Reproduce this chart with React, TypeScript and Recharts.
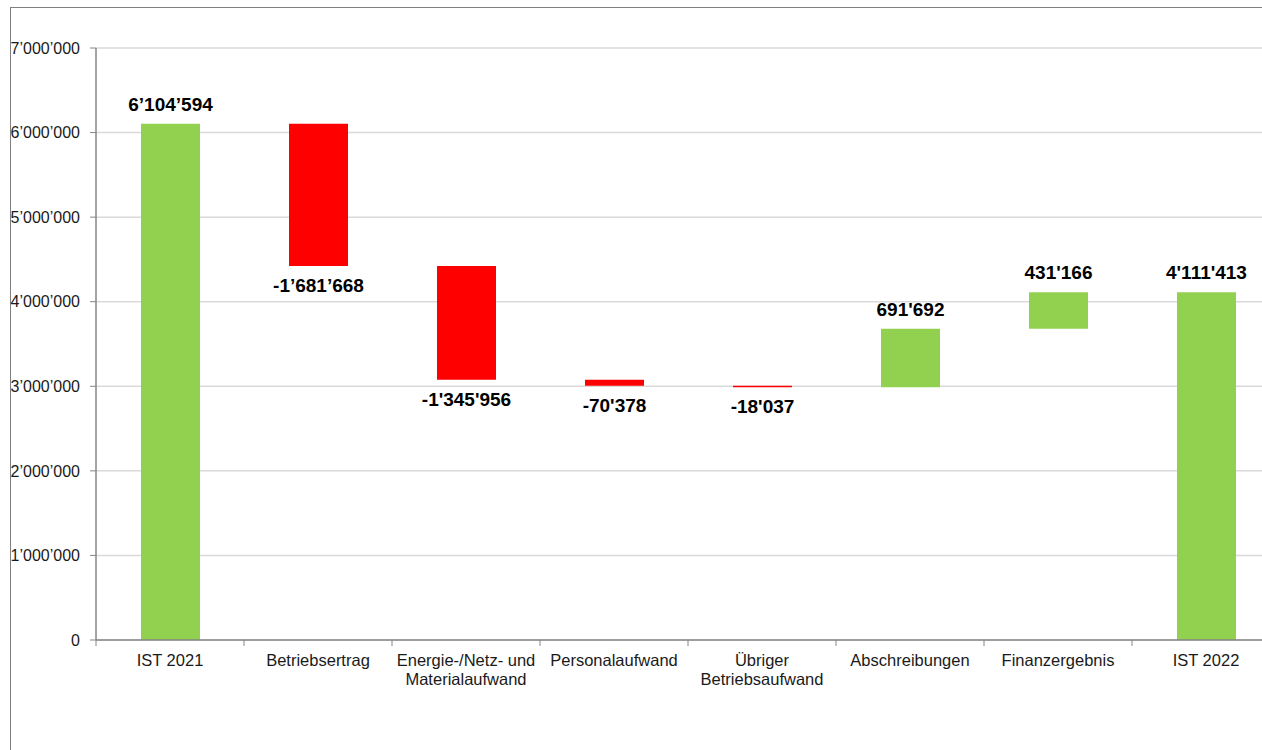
import { BarChart, Bar, XAxis, YAxis, CartesianGrid, Cell, LabelList } from 'recharts';

const categories = [
  'IST 2021',
  'Betriebsertrag',
  'Energie-/Netz- und\nMaterialaufwand',
  'Personalaufwand',
  'Übriger\nBetriebsaufwand',
  'Abschreibungen',
  'Finanzergebnis',
  'IST 2022',
];

// Veränderung pro Position (Totale am Anfang und Ende)
const deltas = [6104594, -1681668, -1345956, -70378, -18037, 691692, 431166, 4111413];
const isTotal = [true, false, false, false, false, false, false, true];

const valueLabels = [
  '6’104’594',
  '-1’681’668',
  "-1'345'956",
  "-70'378",
  "-18'037",
  "691'692",
  "431'166",
  "4'111'413",
];

const yTicks = [0, 1000000, 2000000, 3000000, 4000000, 5000000, 6000000, 7000000];

const GREEN = '#92d050';
const RED = '#ff0000';
const FONT = "'Liberation Sans', Arial, sans-serif";

// Wasserfall: unsichtbare Basis + sichtbarer Balken
let running = 0;
const data = categories.map((name, i) => {
  const d = deltas[i];
  let base: number;
  if (isTotal[i]) {
    base = 0;
    running = d;
  } else if (d >= 0) {
    base = running;
    running += d;
  } else {
    running += d;
    base = running;
  }
  return { name, base, value: Math.abs(d) };
});

const CHART_W = 1300;
const CHART_H = 750;
const PLOT_LEFT = 96;
const PLOT_RIGHT = 1280;
const BAND = (PLOT_RIGHT - PLOT_LEFT) / categories.length;

const formatY = (v: number) =>
  v.toString().replace(/\B(?=(\d{3})+(?!\d))/g, '’');

// eslint-disable-next-line @typescript-eslint/no-explicit-any
const CategoryTick = (props: any) => {
  const { x, y, payload } = props;
  const lines = String(payload.value).split('\n');
  const left = x - BAND / 2;
  return (
    <g>
      <line x1={left} y1={y} x2={left} y2={y + 6} stroke="#868686" strokeWidth={1} />
      <text x={x} y={y + 26} textAnchor="middle" fontSize={16.5} fill="#1a1a1a" fontFamily={FONT}>
        {lines.map((l, k) => (
          <tspan key={k} x={x} dy={k === 0 ? 0 : 19}>
            {l}
          </tspan>
        ))}
      </text>
    </g>
  );
};

// eslint-disable-next-line @typescript-eslint/no-explicit-any
const ValueLabel = (props: any) => {
  const { x, y, width, height, index } = props;
  const negative = deltas[index] < 0;
  const ty = negative ? y + height + 26 : y - 13;
  return (
    <text
      x={x + width / 2}
      y={ty}
      textAnchor="middle"
      fontSize={19}
      fontWeight="bold"
      fill="#000"
      fontFamily={FONT}
    >
      {valueLabels[index]}
    </text>
  );
};

export default function App() {
  return (
    <div
      style={{
        position: 'fixed',
        left: 0,
        top: 0,
        width: 1262,
        height: 750,
        overflow: 'hidden',
        background: '#fff',
      }}
    >
      <div
        style={{
          position: 'absolute',
          left: 10,
          top: 7,
          width: 1400,
          height: 900,
          border: '1px solid #808080',
          boxSizing: 'border-box',
        }}
      />
      <div style={{ position: 'absolute', left: 0, top: 0 }}>
        <BarChart
          width={CHART_W}
          height={CHART_H}
          data={data}
          margin={{ top: 48, right: CHART_W - PLOT_RIGHT, left: 0, bottom: 50 }}
          barSize={59}
        >
          <CartesianGrid vertical={false} stroke="#d9d9d9" strokeWidth={1.5} />
          <XAxis
            dataKey="name"
            interval={0}
            height={60}
            tickLine={false}
            tickSize={0}
            tickMargin={0}
            tick={<CategoryTick />}
            axisLine={{ stroke: '#868686', strokeWidth: 1.5 }}
          />
          <YAxis
            width={PLOT_LEFT}
            domain={[0, 7000000]}
            ticks={yTicks}
            tickFormatter={formatY}
            tickSize={6}
            tickMargin={10}
            tickLine={{ stroke: '#868686' }}
            axisLine={{ stroke: '#868686', strokeWidth: 1.5 }}
            tick={{ fontSize: 16, fill: '#1a1a1a', fontFamily: FONT }}
          />
          <Bar dataKey="base" stackId="w" fill="transparent" isAnimationActive={false} />
          <Bar dataKey="value" stackId="w" isAnimationActive={false}>
            {data.map((_, i) => (
              <Cell key={i} fill={deltas[i] < 0 ? RED : GREEN} />
            ))}
            <LabelList dataKey="value" content={<ValueLabel />} />
          </Bar>
        </BarChart>
      </div>
    </div>
  );
}
